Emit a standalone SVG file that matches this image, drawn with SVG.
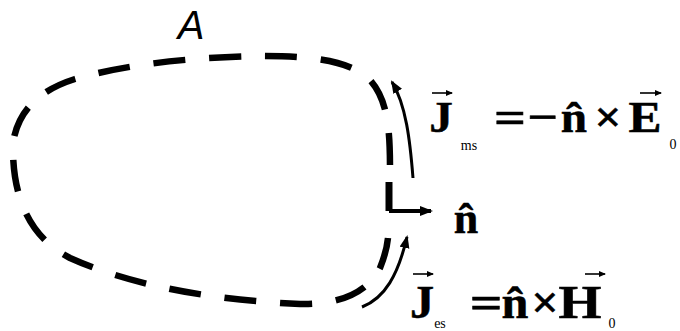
<svg xmlns="http://www.w3.org/2000/svg" width="680" height="331" viewBox="0 0 680 331">
<defs>
<style>
.dash{fill:none;stroke:#000;stroke-width:6.5;stroke-dasharray:32 23.94;stroke-dashoffset:38.94}
.arr{fill:none;stroke:#000;stroke-width:3}
.m{font-family:"Liberation Serif","Times New Roman",serif;font-weight:bold;fill:#000;stroke:#000;stroke-width:0.5;text-anchor:middle}
.s{font-family:"Liberation Serif","Times New Roman",serif;font-weight:normal;fill:#000;text-anchor:middle;font-size:14px}
.vec{fill:none;stroke:#000;stroke-width:1.6}
</style>
<marker id="ah" markerUnits="userSpaceOnUse" markerWidth="14" markerHeight="12" refX="11" refY="5" orient="auto">
<path d="M0,0 L13,5 L0,10 z" fill="#000"/>
</marker>
<marker id="vh" markerUnits="userSpaceOnUse" markerWidth="8" markerHeight="8" refX="6" refY="3" orient="auto">
<path d="M0,0 L7,3 L0,6 z" fill="#000"/>
</marker>
</defs>
<g id="surface">
<path class="dash" pathLength="1000" d="M 390,182 L 390,170 C 390,130 388,100 370,80 C 350,60 310,56 260,56 C 200,57 130,63 75,79 C 40,90 18,110 13,143 C 12,190 25,235 70,258 C 130,285 210,300 300,304 C 340,305 368,292 380,268 C 384,258 387,248 388,238"/>
<text x="191" y="39" font-family="Liberation Sans, Arial, sans-serif" font-style="italic" font-size="40" text-anchor="middle">A</text>
</g>
<g id="connectors">
<path d="M 389,182 L 389,211" stroke="#000" stroke-width="7" fill="none"/>
<path d="M 389,211 L 431,211" stroke="#000" stroke-width="4" fill="none" marker-end="url(#ah)"/>
<path class="arr" d="M 413,178 C 410,140 406,105 392,82" marker-end="url(#ah)"/>
<path class="arr" d="M 362,307 C 385,298 398,275 407,237" marker-end="url(#ah)"/>
</g>
<g id="normal">
<text class="m" font-size="44" transform="translate(466,233)">n̂</text>
</g>
<g id="eq-ms">
<text class="m" font-size="45" transform="translate(441,132) scale(1.05,1)">J</text>
<path class="vec" d="M 432,93 L 452,93" marker-end="url(#vh)"/>
<text class="s" x="469" y="150">ms</text>
<text class="m" font-size="45" transform="translate(510,132) scale(1.25,1)">=</text>
<text class="m" font-size="45" transform="translate(543,132) scale(1.2,1)">−</text>
<text class="m" font-size="45" transform="translate(574,132) scale(1.05,1)">n̂</text>
<text class="m" font-size="45" transform="translate(608,132) scale(1.05,1)">×</text>
<text class="m" font-size="45" transform="translate(645,132) scale(1.1,1)">E</text>
<path class="vec" d="M 640,93 L 661,93" marker-end="url(#vh)"/>
<text class="s" x="673" y="149">0</text>
</g>
<g id="eq-es">
<text class="m" font-size="46" transform="translate(422,318) scale(1.05,1)">J</text>
<path class="vec" d="M 413,274 L 433,274" marker-end="url(#vh)"/>
<text class="s" x="440" y="328">es</text>
<text class="m" font-size="46" transform="translate(486,318) scale(1.25,1)">=</text>
<text class="m" font-size="46" transform="translate(515,318) scale(1.05,1)">n̂</text>
<text class="m" font-size="46" transform="translate(545,318) scale(1.05,1)">×</text>
<text class="m" font-size="46" transform="translate(580,318) scale(1.2,1)">H</text>
<path class="vec" d="M 585,274 L 605,274" marker-end="url(#vh)"/>
<text class="s" x="612" y="328">0</text>
</g>
</svg>
